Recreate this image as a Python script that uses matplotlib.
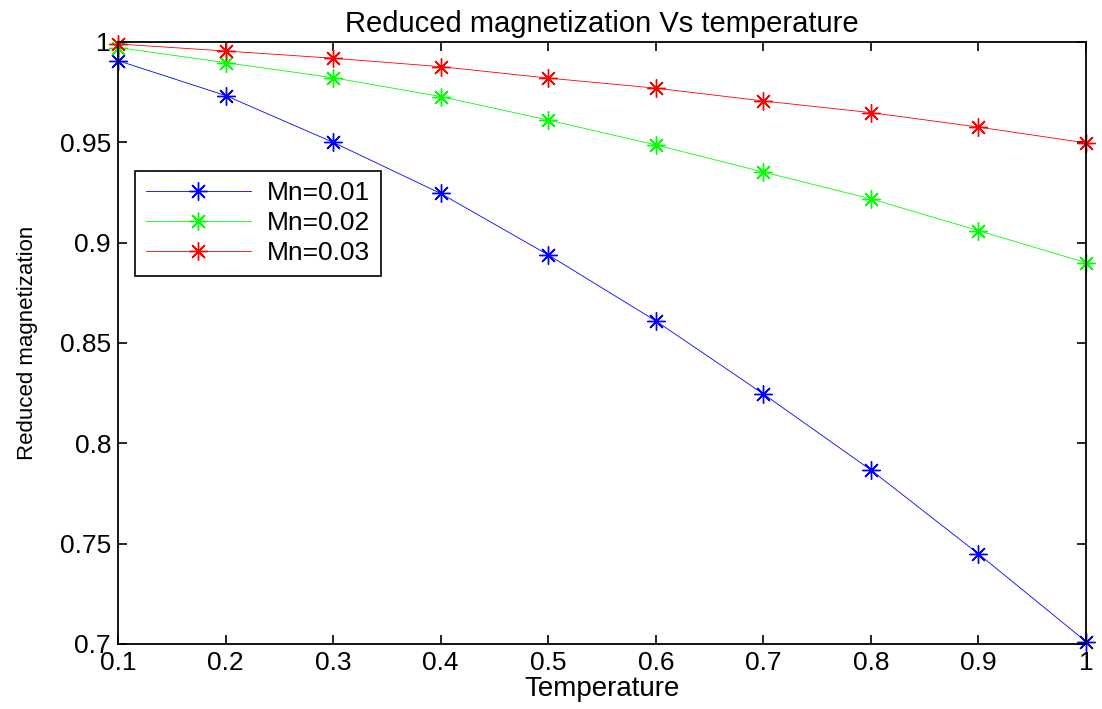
import matplotlib
matplotlib.use('Agg')
import matplotlib.pyplot as plt

plt.rcParams['font.family'] = ['Liberation Sans', 'DejaVu Sans']

# values
temperature = [0.1, 0.2, 0.3, 0.4, 0.5, 0.6, 0.7, 0.8, 0.9, 1.0]
mn_001 = [0.9907, 0.9733, 0.9500, 0.9245, 0.8939, 0.8610, 0.8246, 0.7867, 0.7449, 0.7012]
mn_002 = [0.9972, 0.9897, 0.9822, 0.9728, 0.9611, 0.9487, 0.9352, 0.9218, 0.9060, 0.8900]
mn_003 = [0.9990, 0.9955, 0.9919, 0.9877, 0.9820, 0.9770, 0.9706, 0.9648, 0.9576, 0.9497]
series_labels = ['Mn=0.01', 'Mn=0.02', 'Mn=0.03']

xticks = [0.1, 0.2, 0.3, 0.4, 0.5, 0.6, 0.7, 0.8, 0.9, 1.0]
xticklabels = ['0.1', '0.2', '0.3', '0.4', '0.5', '0.6', '0.7', '0.8', '0.9', '1']
yticks = [0.7, 0.75, 0.8, 0.85, 0.9, 0.95, 1.0]
yticklabels = ['0.7', '0.75', '0.8', '0.85', '0.9', '0.95', '1']

fig = plt.figure(figsize=(11.02, 7.09), dpi=100)
ax = fig.add_axes([0.1071, 0.0917, 0.8784, 0.8491])

colors = ['#0000ff', '#00ff00', '#ff0000']
for vals, c, lab in zip([mn_001, mn_002, mn_003], colors, series_labels):
    ax.plot(temperature, vals, color=c, lw=0.6, marker=(8, 2, 0),
            markersize=13, markeredgewidth=1.0, markeredgecolor=c, label=lab,
            clip_on=False)

ax.set_xlim(0.1, 1.0)
ax.set_ylim(0.7, 1.0)
ax.set_xticks(xticks)
ax.set_xticklabels(xticklabels)
ax.set_yticks(yticks)
ax.set_yticklabels(yticklabels)
ax.tick_params(direction='in', length=6.5, width=1.2, top=True, right=True,
               labelsize=19, pad=5)
for s in ax.spines.values():
    s.set_linewidth(1.3)

ax.set_title('Reduced magnetization Vs temperature', fontsize=21, pad=7)
ax.set_xlabel('Temperature', fontsize=20, labelpad=1)
ax.set_ylabel('Reduced magnetization', fontsize=16, labelpad=16)

leg = ax.legend(loc='upper left', bbox_to_anchor=(0.0176, 0.786), borderaxespad=0,
                fontsize=19, fancybox=False, edgecolor='black', framealpha=1,
                handlelength=4.0, handletextpad=0.6, labelspacing=0.22,
                borderpad=0.4)
leg.get_frame().set_linewidth(1.2)

fig.savefig('out.png', dpi=100)
